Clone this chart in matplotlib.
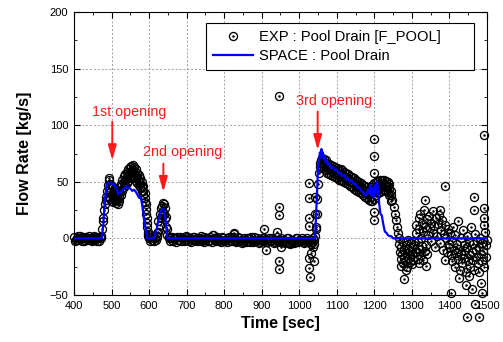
import numpy as np
import matplotlib
matplotlib.use('Agg')
import matplotlib.pyplot as plt
from matplotlib.legend_handler import HandlerTuple

plt.rcParams['font.family'] = ['Liberation Sans', 'DejaVu Sans']

# EXP : Pool Drain [F_POOL]  (segment by segment)
exp_base1_t = np.arange(400, 471, 5)
exp_base1_v = [1, -1, 2, 0, -2, 1, -1, 0, 2, -1, 0, 1, -2, 0, 1]
exp_base1b_t = np.arange(402, 473, 5)
exp_base1b_v = [-2, 0, -1, 2, 0, -2, 1, -1, 0, -2, 2, -1, 0, -2, 0]

exp_rise1_t = [472, 474, 476, 478, 480, 482, 484, 486, 488, 490, 492, 494]
exp_rise1_v = [2, 8, 15, 18, 25, 30, 34, 37, 42, 47, 52, 53]

exp_peak1_t = [496, 500, 504, 508, 512, 516, 520, 524, 528, 532, 536, 540, 544, 548,
               552, 556, 560, 564, 568, 572, 576, 580, 584, 588, 592, 595, 598]
exp_peak1_hi = [48, 46, 45, 44, 42, 40, 42, 48, 52, 55, 57, 59, 61, 63,
                64, 65, 63, 61, 58, 56, 53, 50, 46, 40, 30, 18, 6]
exp_peak1_mid = [41, 39, 38, 39, 36, 35, 37, 43, 47, 50, 52, 54, 56, 58,
                 59, 60, 58, 56, 54, 51, 49, 46, 42, 36, 26, 14, 4]
exp_peak1_lo = [35, 33, 32, 34, 31, 30, 33, 38, 42, 45, 47, 49, 51, 53,
                54, 55, 53, 51, 49, 47, 45, 42, 38, 32, 22, 10, 2]

exp_gap_t = [600, 603, 606, 609, 612, 615, 618, 620]
exp_gap_v = [0, -2, 1, -1, -2, 0, -1, 1]

exp_peak2_t = [622, 625, 628, 631, 634, 637, 640, 643, 646, 649, 652]
exp_peak2_hi = [5, 15, 22, 27, 29, 31, 30, 27, 19, 8, 1]
exp_peak2_lo = [2, 6, 12, 18, 21, 23, 22, 17, 10, 3, 0]

exp_base2_t = np.arange(655, 1041, 5)
exp_base2_v = [0, -1, -2, 0, 1, -1, -2, 0, -1, 1,
               -2, 0, -1, 1, -2, -1, 0, -2, 1, -1,
               0, -2, -1, 3, -1, 0, -2, -1, 1, -2,
               -1, 0, -2, 1, 4, -1, -2, 0, -1, -3,
               -1, -2, 0, -3, -1, 1, -2, -1, -3, 0,
               -2, -1, -3, 0, -2, -1, -3, 1, -2, -1,
               -3, -1, -2, 0, -4, -1, -2, -3, 0, -1,
               -2, -1, -3, 0, -2, -1, -3, -1]
exp_base2b_t = np.arange(657, 1038, 5)
exp_base2b_v = [-2, 1, 0, -3, -1, 1, 0, -2, 2, -1,
                0, -3, 1, -1, 0, -2, 2, -1, -3, 0,
                -2, 1, -3, 0, -2, 1, -1, -3, 0, -1,
                -3, 1, 0, -2, -1, -3, 1, -2, -4, 0,
                -3, 0, -2, 1, -3, -2, 0, -4, -1, -2,
                0, -3, -1, -2, 0, -4, -1, -2, -3, 0,
                -2, -4, 0, -3, -1, -2, -4, 0, -3, -2,
                0, -4, -2, -1, -3, -5, 0]

exp_rise3_t = [1042, 1044, 1046, 1048, 1050, 1052, 1054, 1056, 1058]
exp_rise3_v = [2, 10, 22, 35, 48, 58, 63, 67, 69]

exp_fall3_t = np.arange(1060, 1246, 5)
exp_fall3_hi = [71, 70, 69, 67, 66, 65, 64, 63, 62, 61, 61, 60, 59, 58, 57, 55, 54, 53, 52,
                51, 50, 49, 47, 46, 45, 44, 45, 47, 49, 50, 51, 52, 52, 52, 51, 50, 48, 42]
exp_fall3_mid = [67, 66, 65, 63, 62, 61, 60, 59, 58, 57, 57, 56, 55, 54, 53, 51, 50, 49, 48,
                 47, 46, 45, 43, 42, 41, 40, 40, 41, 43, 45, 46, 47, 47, 48, 47, 46, 44, 38]
exp_fall3_lo = [62, 61, 60, 58, 57, 56, 55, 54, 53, 52, 52, 51, 50, 49, 48, 46, 45, 44, 43,
                42, 41, 40, 38, 37, 36, 34, 33, 33, 35, 38, 40, 41, 42, 43, 42, 41, 38, 33]

exp_drop3_t = [1248, 1251, 1254, 1257, 1260, 1263, 1266]
exp_drop3_v = [34, 28, 22, 16, 10, 5, 0]

exp_tail_t = [1266, 1268, 1270, 1272, 1274, 1276, 1278, 1280, 1282, 1284, 1286, 1288, 1290,
              1292, 1294, 1296, 1298, 1300, 1302, 1304, 1306, 1308, 1270, 1275, 1280, 1285,
              1290, 1295, 1300, 1305,
              1310, 1315, 1318, 1320, 1324, 1328, 1330, 1334, 1338, 1340,
              1310, 1312, 1315, 1318, 1320, 1322, 1325, 1327, 1330, 1332, 1335, 1336, 1338,
              1340, 1342, 1345, 1347, 1350, 1352, 1355, 1357, 1360, 1362, 1365, 1367, 1370,
              1372, 1375, 1376, 1378, 1380, 1382, 1385, 1387, 1389, 1390, 1393, 1395, 1398,
              1400, 1402, 1404, 1406, 1408, 1410, 1412, 1414, 1416, 1418, 1420, 1422, 1424,
              1426, 1428, 1430, 1432, 1434, 1436, 1438, 1440, 1442, 1444, 1446, 1448, 1450,
              1452, 1454, 1456, 1458, 1460, 1462, 1464, 1466, 1468, 1470, 1472, 1474, 1476,
              1478, 1480, 1482, 1484, 1486, 1488, 1490, 1492, 1494, 1496, 1498, 1500]
exp_tail_v = [-5, -12, -8, -18, -14, -22, -10, -16, -20, -6, -13, -25, -9,
              -17, -11, -21, -4, -14, -8, -19, -2, -12, -24, -3, -36, -28,
              -1, -15, -23, -6,
              -12, -18, -9, -22, -15, -7, -19, -11, -24, -14,
              5, 12, -3, 18, 8, 22, 0, 14, 6, 25, 34, 10, -6,
              17, 3, 20, 9, -2, 14, 24, 5, 11, -8, 18, 2, 13,
              21, -4, 25, 7, 16, -10, 4, 12, -19, 0, -12, 8, -5,
              -8, 5, -15, -2, -20, 10, -10, -25, 3, -13, -5, -18, 15,
              -9, -28, 0, -14, -22, 7, -6, -17, -11, -30, 2, -8, -20,
              -3, -15, -25, 10, -12, -5, -19, -28, 4, -10, -16, -2, -22,
              -8, -30, 0, -14, -20, -4, -11, -25, 6, -16, -6, -1]

exp_out_t = [771, 825, 905, 911, 940, 945, 945, 947, 947, 947, 951, 976,
             1025, 1025, 1025, 1027, 1027, 1027, 1029, 1032, 1036, 1038, 1040, 1043, 1043, 1045,
             1198, 1198, 1198, 1198, 1198,
             1389, 1465, 1465, 1491, 1493, 1493, 1491, 1425, 1451, 1443, 1483, 1403, 1461,
             1487, 1469, 1447, 1478]
exp_out_v = [3, 5, 8, -10, 6, 28, 21, 126, -20, -27, -8, -5,
             49, 36, 18, 11, -17, -26, -34, -13, -8, -20, -5, 37, 22, 8,
             88, 73, 58, 23, 16,
             46, 37, 25, 27, 18, 12, 91, -35, -33, -41, -39, -48, -45,
             -48, -58, -69, -69]

# SPACE : Pool Drain
space_t = [400, 474, 478, 482, 487, 492, 505, 512, 518, 522, 530, 540, 545, 550, 555, 560,
           565, 570, 573, 576, 580, 585, 590, 596, 613, 620, 625, 630, 634, 638, 641, 645,
           649, 1042, 1046, 1050, 1053, 1055, 1057, 1059, 1061, 1063, 1065, 1068, 1070, 1073,
           1076, 1080, 1085, 1090, 1095, 1100, 1105, 1110, 1115, 1120, 1125, 1130, 1135, 1140,
           1145, 1150, 1155, 1160, 1165, 1170, 1175, 1180, 1183, 1186, 1189, 1192, 1195, 1198,
           1201, 1204, 1207, 1210, 1213, 1216, 1220, 1224, 1228, 1232, 1236, 1240, 1245, 1250,
           1258, 1500]
space_v = [0, 0, 12, 32, 48, 49, 48, 45, 39, 40, 43, 46, 45, 44, 42, 43,
           41, 38, 36, 37, 33, 22, 10, 0, 0, 8, 16, 23, 26, 26, 24, 12,
           0, 0, 30, 62, 70, 76, 72, 79, 71, 76, 70, 73, 67, 69,
           65, 66, 62, 63, 60, 61, 57, 58, 55, 56, 52, 53, 50, 51,
           48, 48, 45, 45, 42, 41, 38, 39, 43, 40, 47, 38, 44, 36,
           47, 40, 50, 42, 30, 22, 20, 12, 6, 5, 3, 2, 2, 0,
           0, 0]

exp_t = np.concatenate([exp_base1_t, exp_base1b_t, exp_rise1_t, exp_peak1_t, exp_peak1_t,
                        exp_peak1_t, exp_gap_t, exp_peak2_t, exp_peak2_t, exp_base2_t,
                        exp_base2b_t, exp_rise3_t, exp_fall3_t, exp_fall3_t, exp_fall3_t,
                        exp_drop3_t, exp_tail_t, exp_out_t])
exp_v = np.concatenate([exp_base1_v, exp_base1b_v, exp_rise1_v, exp_peak1_hi, exp_peak1_mid,
                        exp_peak1_lo, exp_gap_v, exp_peak2_hi, exp_peak2_lo, exp_base2_v,
                        exp_base2b_v, exp_rise3_v, exp_fall3_hi, exp_fall3_mid, exp_fall3_lo,
                        exp_drop3_v, exp_tail_v, exp_out_v])

fig = plt.figure(figsize=(5.03, 3.42), dpi=100)
ax = fig.add_axes([0.1471, 0.1374, 0.8211, 0.8275])

h1, = ax.plot(exp_t, exp_v, 'o', ms=5.8, mfc='none', mec='black', mew=0.95, clip_on=False, zorder=3)
h2, = ax.plot(exp_t, exp_v, '.', ms=1.6, color='black', clip_on=False, zorder=3)
h3, = ax.plot(space_t, space_v, color='#0000ff', lw=1.6, zorder=4)

ax.set_xlim(400, 1500)
ax.set_ylim(-50, 200)
ax.set_xticks(np.arange(400, 1501, 100))
ax.set_yticks(np.arange(-50, 201, 50))
ax.set_xticks(np.arange(450, 1500, 100), minor=True)
ax.set_yticks(np.arange(-25, 200, 50), minor=True)
ax.tick_params(which='both', direction='in', top=True, right=True, labelsize=8, pad=4)
ax.tick_params(which='major', length=4)
ax.tick_params(which='minor', length=2.5)
ax.grid(True, which='major', color='#a0a0a0', ls=(0, (2, 2)), lw=0.7)
ax.set_axisbelow(True)

ax.set_xlabel('Time [sec]', fontsize=11.5, fontweight='bold', labelpad=4)
ax.set_ylabel('Flow Rate [kg/s]', fontsize=11.5, fontweight='bold', labelpad=13)

leg = ax.legend([(h1, h2), h3], ['EXP : Pool Drain [F_POOL]', 'SPACE : Pool Drain'],
                handler_map={tuple: HandlerTuple(ndivide=1)},
                loc='upper left', bbox_to_anchor=(0.3196, 0.0, 0.6489, 0.961), mode='expand',
                borderaxespad=0, fontsize=10.6, fancybox=False, framealpha=1,
                edgecolor='black', handlelength=2.7, handletextpad=0.4, labelspacing=0.3,
                borderpad=0.5, numpoints=1)
leg.get_frame().set_linewidth(0.8)

# opening annotations
red = '#ff1a1a'
ax.text(546, 112, '1st opening', color=red, fontsize=10.3, ha='center', va='center')
ax.text(688, 76, '2nd opening', color=red, fontsize=10.3, ha='center', va='center')
ax.text(1093, 121, '3rd opening', color=red, fontsize=10.3, ha='center', va='center')
arrow = dict(arrowstyle='-|>,head_length=0.9,head_width=0.25', color=red, lw=1.4,
             shrinkA=0, shrinkB=0, mutation_scale=10)
ax.annotate('', xy=(502, 69), xytext=(502, 103), arrowprops=arrow)
ax.annotate('', xy=(638, 41), xytext=(638, 66), arrowprops=arrow)
ax.annotate('', xy=(1049, 78), xytext=(1049, 112), arrowprops=arrow)

fig.savefig('out.png', dpi=100)
